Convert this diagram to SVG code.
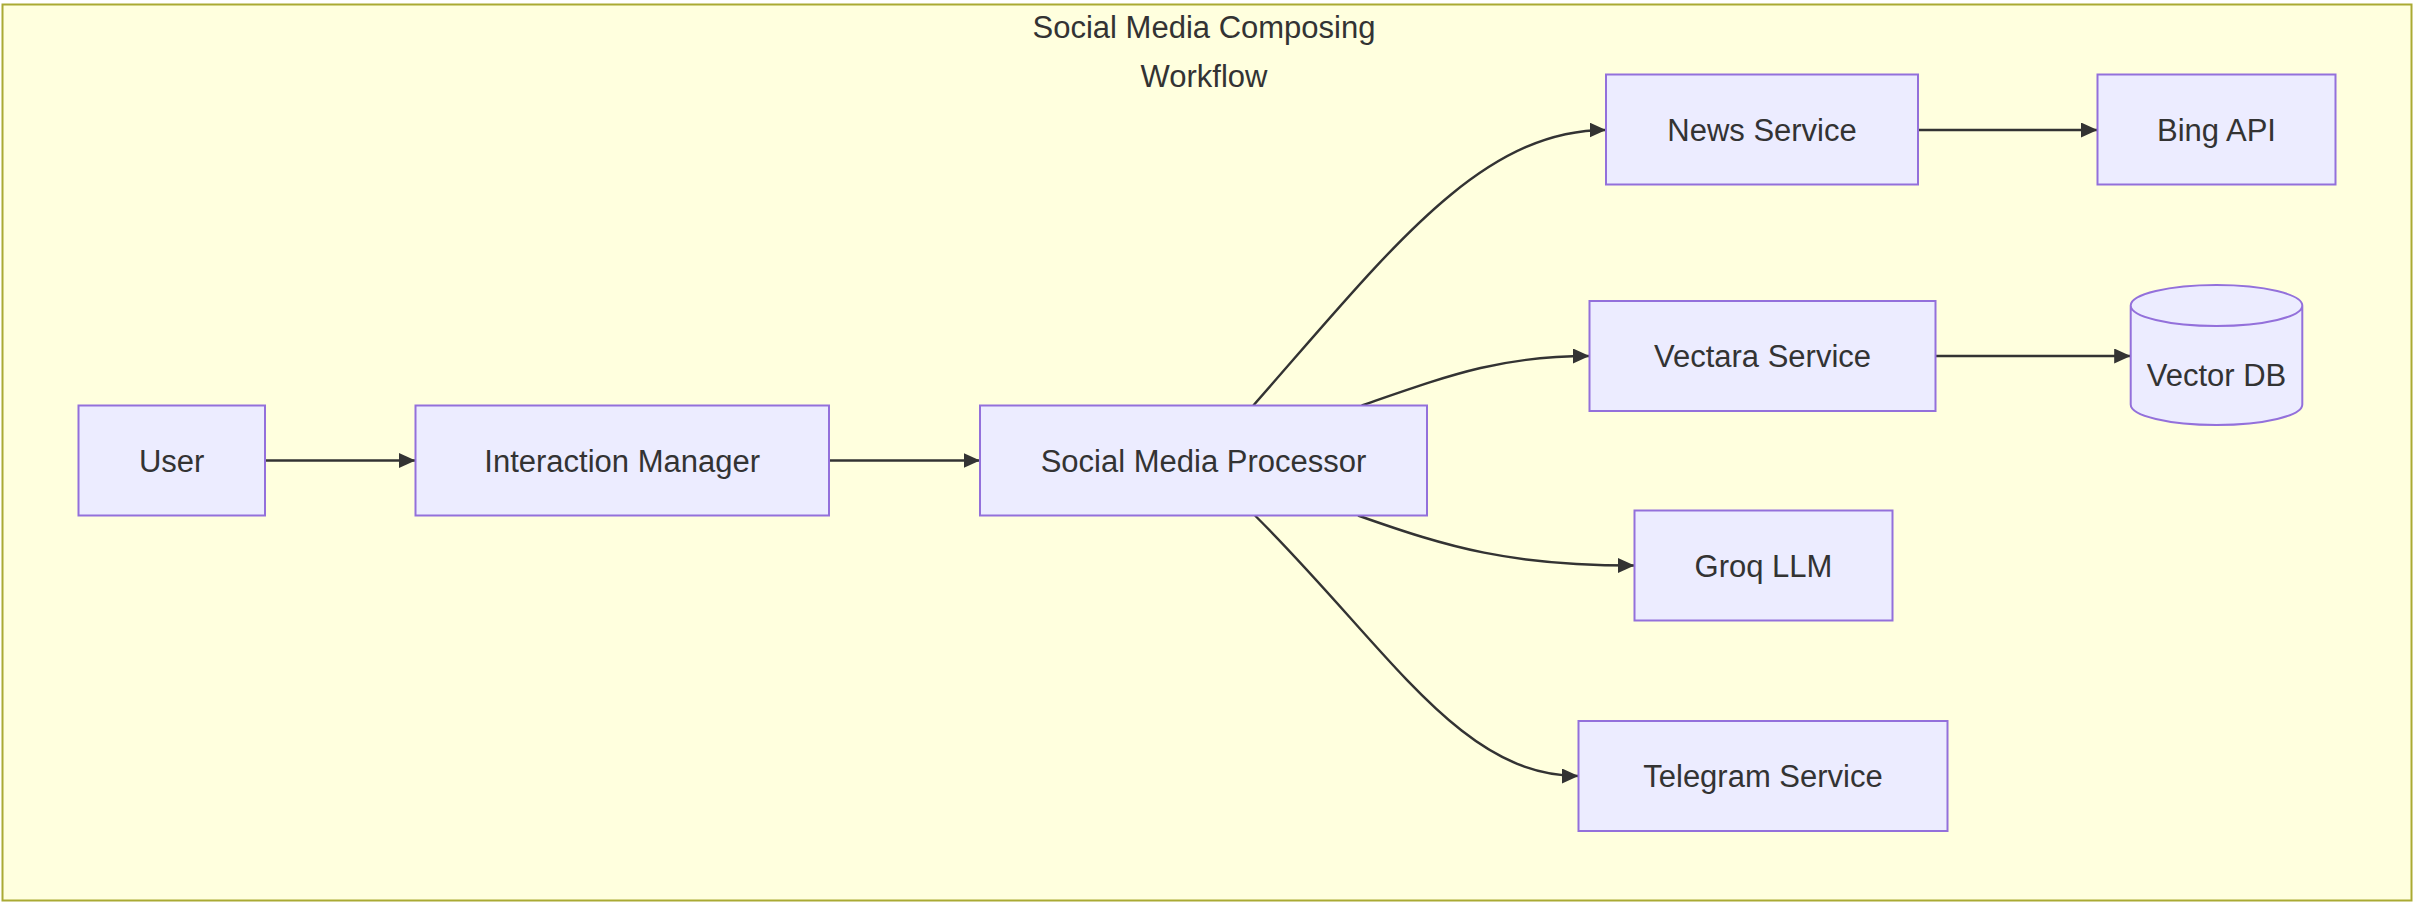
<svg xmlns="http://www.w3.org/2000/svg" width="2417" height="908" viewBox="0 0 2417 908">
<style>
.frame{fill:#ffffde;stroke:#aaaa33;stroke-width:2}
.node{fill:#ececff;stroke:#9370db;stroke-width:2}
.lbl{font-family:"Liberation Sans",Arial,sans-serif;font-size:31px;fill:#333333;text-anchor:middle}
.edge{fill:none;stroke:#333333;stroke-width:2.4}
</style>
<defs>
<marker id="arrow" markerUnits="userSpaceOnUse" markerWidth="18" markerHeight="16" refX="16.5" refY="7.5" orient="auto">
<path d="M0,0 L16.5,7.5 L0,15 z" fill="#333333"/>
</marker>
</defs>
<g id="cluster">
<rect class="frame" x="2.5" y="4.5" width="2409" height="896"/>
<text class="lbl" x="1204" y="38">Social Media Composing</text>
<text class="lbl" x="1204" y="86.5">Workflow</text>
</g>
<g id="connectors">
<path class="edge" d="M265,460.5 L415.5,460.5" marker-end="url(#arrow)"/>
<path class="edge" d="M829,460.5 L980,460.5" marker-end="url(#arrow)"/>
<path class="edge" d="M1253.3,405.5 C1390,250 1480,130 1606,130" marker-end="url(#arrow)"/>
<path class="edge" d="M1361.7,405.5 C1450,375 1500,356 1589.5,356" marker-end="url(#arrow)"/>
<path class="edge" d="M1358,515.5 C1450,548 1510,565.5 1634.5,565.5" marker-end="url(#arrow)"/>
<path class="edge" d="M1255,515.5 C1390,650 1460,776 1578.5,776" marker-end="url(#arrow)"/>
<path class="edge" d="M1918,130 L2097.5,130" marker-end="url(#arrow)"/>
<path class="edge" d="M1935.5,356 L2130.7,356" marker-end="url(#arrow)"/>
</g>
<g id="node-user">
<rect class="node" x="78.5" y="405.5" width="186.5" height="110"/>
<text class="lbl" x="171.7" y="471.5">User</text>
</g>
<g id="node-interaction-manager">
<rect class="node" x="415.5" y="405.5" width="413.5" height="110"/>
<text class="lbl" x="622.2" y="471.5">Interaction Manager</text>
</g>
<g id="node-social-media-processor">
<rect class="node" x="980" y="405.5" width="447" height="110"/>
<text class="lbl" x="1203.5" y="471.5">Social Media Processor</text>
</g>
<g id="node-news-service">
<rect class="node" x="1606" y="74.5" width="312" height="110"/>
<text class="lbl" x="1762" y="140.5">News Service</text>
</g>
<g id="node-bing-api">
<rect class="node" x="2097.5" y="74.5" width="238" height="110"/>
<text class="lbl" x="2216.5" y="140.5">Bing API</text>
</g>
<g id="node-vectara-service">
<rect class="node" x="1589.5" y="301" width="346" height="110"/>
<text class="lbl" x="1762.5" y="367">Vectara Service</text>
</g>
<g id="node-vector-db">
<path class="node" d="M2130.7,305.5 a85.8,20.5 0 0,0 171.6,0 a85.8,20.5 0 0,0 -171.6,0 l0,99 a85.8,20.5 0 0,0 171.6,0 l0,-99"/>
<text class="lbl" x="2216.5" y="386">Vector DB</text>
</g>
<g id="node-groq-llm">
<rect class="node" x="1634.5" y="510.5" width="258" height="110"/>
<text class="lbl" x="1763.5" y="576.5">Groq LLM</text>
</g>
<g id="node-telegram-service">
<rect class="node" x="1578.5" y="721" width="369" height="110"/>
<text class="lbl" x="1763" y="787">Telegram Service</text>
</g>
</svg>
